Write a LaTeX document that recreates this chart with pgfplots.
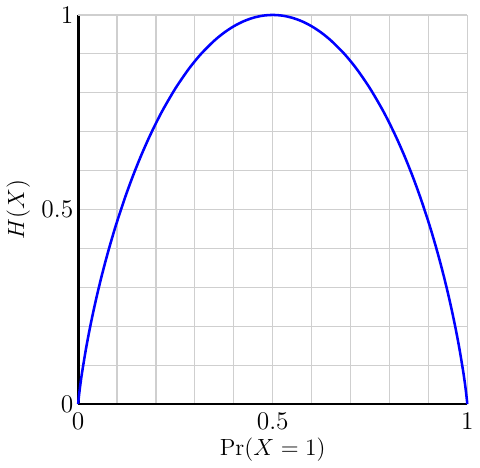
\documentclass[border=0pt]{standalone}
\usepackage{pgfplots}
\pgfplotsset{compat=1.18}
\begin{document}
\begin{tikzpicture}
\begin{axis}[
  scale only axis,
  width=7cm, height=7cm,
  xmin=0, xmax=1, ymin=0, ymax=1,
  axis x line*=bottom, axis y line*=left,
  axis line style={line width=1.45pt, -},
  xtick={0,0.1,0.2,0.3,0.4,0.5,0.6,0.7,0.8,0.9,1},
  ytick={0,0.1,0.2,0.3,0.4,0.5,0.6,0.7,0.8,0.9,1},
  xticklabels={0,,,,,0.5,,,,,1}, yticklabels={0,,,,,0.5,,,,,1},
  extra x ticks={1}, extra x tick labels={},
  extra y ticks={1}, extra y tick labels={},
  grid=major,
  grid style={gray!38, line width=0.6pt},
  major tick length=0pt,
  tick style={draw=none},
  tick label style={font=\fontsize{13}{15}\selectfont},
  label style={font=\fontsize{13}{15}\selectfont},
  xticklabel style={yshift=-1pt},
  yticklabel style={xshift=1pt},
  xlabel={$\Pr(X = 1)$},
  ylabel={$H(X)$},
  xlabel style={yshift=3pt},
  ylabel style={yshift=-1pt},
  clip=false,
]
\addplot[blue, line width=1.3pt, smooth] table[row sep=\\] {
x y\\
0 0\\
0.001 0.011408\\
0.005 0.04541\\
0.01 0.08079\\
0.02 0.14144\\
0.03 0.19439\\
0.04 0.24229\\
0.05 0.28640\\
0.06 0.32744\\
0.07 0.36592\\
0.08 0.40218\\
0.09 0.43647\\
0.10 0.46900\\
0.12 0.52936\\
0.14 0.58424\\
0.16 0.63431\\
0.18 0.68007\\
0.20 0.72193\\
0.22 0.76017\\
0.25 0.81128\\
0.28 0.85545\\
0.30 0.88129\\
0.32 0.90440\\
0.35 0.93407\\
0.375 0.95443\\
0.40 0.97095\\
0.425 0.98371\\
0.45 0.99277\\
0.475 0.99820\\
0.50 1\\
0.525 0.99820\\
0.55 0.99277\\
0.575 0.98371\\
0.60 0.97095\\
0.625 0.95443\\
0.65 0.93407\\
0.68 0.90440\\
0.70 0.88129\\
0.72 0.85545\\
0.75 0.81128\\
0.78 0.76017\\
0.80 0.72193\\
0.82 0.68007\\
0.84 0.63431\\
0.86 0.58424\\
0.88 0.52936\\
0.90 0.46900\\
0.91 0.43647\\
0.92 0.40218\\
0.93 0.36592\\
0.94 0.32744\\
0.95 0.28640\\
0.96 0.24229\\
0.97 0.19439\\
0.98 0.14144\\
0.99 0.08079\\
0.995 0.04541\\
0.999 0.011408\\
1 0\\
};
\end{axis}
\end{tikzpicture}
\end{document}
